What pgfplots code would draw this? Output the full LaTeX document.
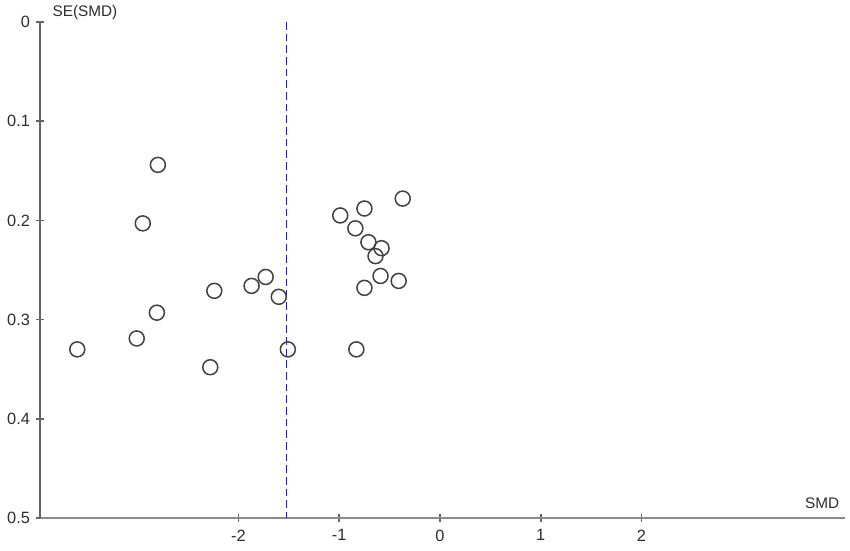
\documentclass[border=0pt]{standalone}
\usepackage{pgfplots}
\pgfplotsset{compat=1.18}
\usepackage{fontspec}
\setmainfont{Liberation Sans}
\definecolor{axgray}{RGB}{100,100,100}
\definecolor{txtgray}{RGB}{45,45,45}
\definecolor{lineblue}{RGB}{30,30,200}
\begin{document}
\begin{tikzpicture}[x=1pt,y=1pt]
  % picture frame 850x550 px at 0.6pt per px
  \path[use as bounding box] (-24,-19.2) rectangle (486,310.8);
  \begin{axis}[
    at={(0,0)}, anchor=south west,
    scale only axis,
    width=483pt, height=297.6pt,
    xmin=-3.97, xmax=4.02,
    ymin=0, ymax=0.5,
    y dir=reverse,
    axis x line*=bottom, axis y line*=left,
    axis line style={axgray, line width=1pt},
    x axis line style={draw=axgray!75, line width=1.4pt},
    xtick={-2,-1,0,1,2},
    ytick={0,0.1,0.2,0.3,0.4,0.5},
    yticklabels={0,0.1,0.2,0.3,0.4,0.5},
    tick align=center,
    major tick length=5pt,
    tick style={axgray, line width=1pt},
    ticklabel style={font=\fontsize{9.8}{11}\selectfont, text=txtgray},
    xticklabel style={yshift=-1pt},
    /pgf/number format/assume math mode=true,
    xlabel={SMD},
    xlabel style={at={(axis description cs:1,0)}, anchor=south east,
                  font=\fontsize{9.2}{11}\selectfont, text=txtgray, yshift=2pt},
    ylabel={SE(SMD)},
    ylabel style={at={(axis description cs:0,1)}, anchor=south west, rotate=-90,
                  font=\fontsize{9.2}{11}\selectfont, text=txtgray, xshift=4pt, yshift=-2pt},
    clip=false,
  ]
    \addplot[lineblue, line width=0.7pt, dash pattern=on 4.5pt off 2.5pt]
      coordinates {(-1.52,0) (-1.52,0.5)};
    \addplot[only marks, mark=o, mark size=4.5pt,
             mark options={draw=black!75, line width=0.9pt}]
      coordinates {
        (-3.60,0.330) (-3.01,0.319) (-2.95,0.203) (-2.80,0.144)
        (-2.81,0.293) (-2.28,0.348) (-2.24,0.271) (-1.87,0.266)
        (-1.73,0.257) (-1.60,0.277) (-1.51,0.330) (-0.99,0.195)
        (-0.75,0.188) (-0.84,0.208) (-0.37,0.178) (-0.71,0.222)
        (-0.58,0.228) (-0.64,0.236) (-0.59,0.256) (-0.41,0.261)
        (-0.75,0.268) (-0.83,0.330)
      };
  \end{axis}
\end{tikzpicture}
\end{document}
